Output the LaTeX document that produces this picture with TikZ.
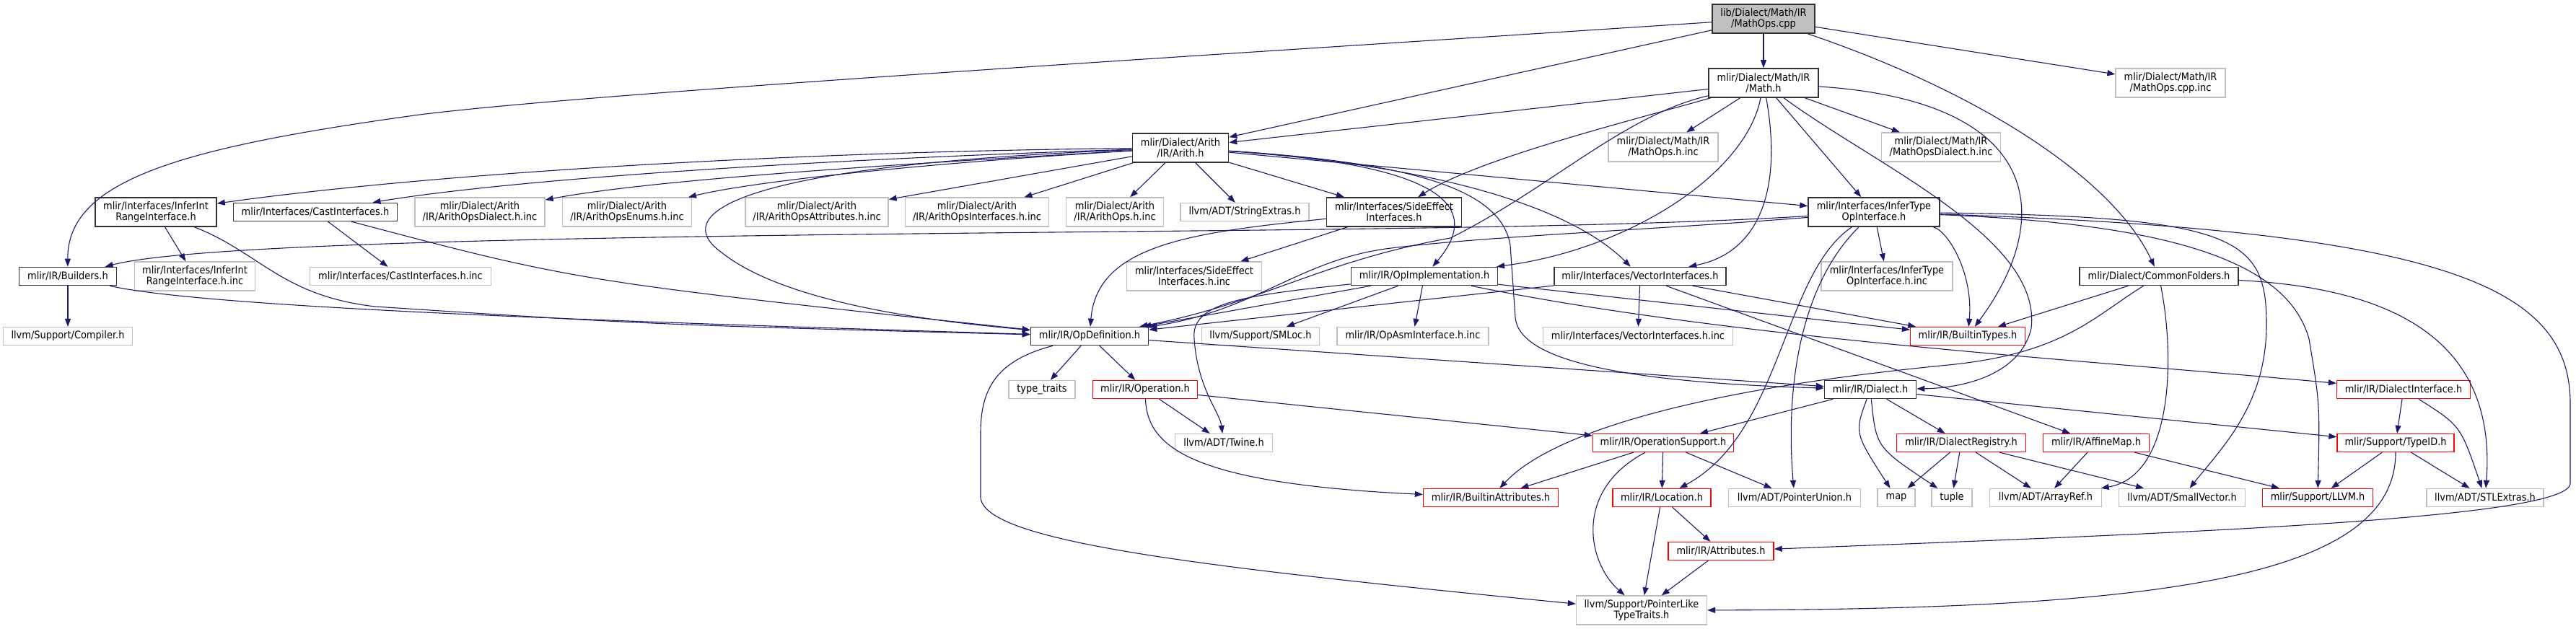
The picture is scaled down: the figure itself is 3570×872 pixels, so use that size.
\documentclass[tikz,border=0pt]{standalone}
\usepackage{fontspec}
\setmainfont{DejaVu Sans}[FakeStretch=0.9]
\usepackage{tikz}
\usetikzlibrary{arrows.meta}
\definecolor{edgeBlue}{RGB}{25,25,112}
\definecolor{boxDark}{RGB}{50,50,50}
\definecolor{boxGrey}{RGB}{191,191,191}
\definecolor{boxRed}{RGB}{255,0,0}

\begin{document}
\begin{tikzpicture}[x=1pt,y=-1pt,font=\fontsize{14.4}{15}\selectfont,
 file/.style={draw,inner xsep=2pt,inner ysep=1pt,minimum height=25pt,align=center},
 doc/.style={file,draw=boxDark,line width=1.6pt},
 ext/.style={file,draw=boxGrey,line width=1.3pt},
 trunc/.style={file,draw=boxRed,line width=1.3pt},
 root/.style={doc,fill=boxGrey},
 tall/.style={minimum height=40pt},
 inc/.style={draw=edgeBlue,line width=1.1pt,-{Triangle[length=11pt,width=8pt]}}]
 \useasboundingbox (0,0) rectangle (3570,872);
 \node[root,tall,minimum width=142pt] (mathops) at (2444,26) {lib/Dialect/Math/IR\\/MathOps.cpp};
 \node[doc,tall,minimum width=152pt] (math) at (2444,115) {mlir/Dialect/Math/IR\\/Math.h};
 \node[ext,tall,minimum width=152pt] (mathopscppinc) at (3008,115) {mlir/Dialect/Math/IR\\/MathOps.cpp.inc};
 \node[doc,tall,minimum width=133pt] (arith) at (1636,205) {mlir/Dialect/Arith\\/IR/Arith.h};
 \node[ext,tall,minimum width=152pt] (mathopsinc) at (2305,204) {mlir/Dialect/Math/IR\\/MathOps.h.inc};
 \node[ext,tall,minimum width=165pt] (mathdialectinc) at (2690,204) {mlir/Dialect/Math/IR\\/MathOpsDialect.h.inc};
 \node[doc,tall,minimum width=168pt] (inferint) at (216,294) {mlir/Interfaces/InferInt\\RangeInterface.h};
 \node[doc,minimum width=227pt] (castif) at (437,294) {mlir/Interfaces/CastInterfaces.h};
 \node[ext,tall,minimum width=180pt] (arithdialect) at (665,294) {mlir/Dialect/Arith\\/IR/ArithOpsDialect.h.inc};
 \node[ext,tall,minimum width=179pt] (arithenums) at (869,294) {mlir/Dialect/Arith\\/IR/ArithOpsEnums.h.inc};
 \node[ext,tall,minimum width=198pt] (arithattr) at (1132,294) {mlir/Dialect/Arith\\/IR/ArithOpsAttributes.h.inc};
 \node[ext,tall,minimum width=199pt] (arithif) at (1354,294) {mlir/Dialect/Arith\\/IR/ArithOpsInterfaces.h.inc};
 \node[ext,tall,minimum width=135pt] (arithops) at (1545,294) {mlir/Dialect/Arith\\/IR/ArithOps.h.inc};
 \node[ext,minimum width=178pt] (stringextras) at (1725,294) {llvm/ADT/StringExtras.h};
 \node[doc,tall,minimum width=187pt] (sideeffect) at (1932,294) {mlir/Interfaces/SideEffect\\Interfaces.h};
 \node[doc,tall,minimum width=182pt] (infertype) at (2597,294) {mlir/Interfaces/InferType\\OpInterface.h};
 \node[doc,minimum width=135pt] (builders) at (94,383) {mlir/IR/Builders.h};
 \node[ext,tall,minimum width=167pt] (inferintinc) at (270,383) {mlir/Interfaces/InferInt\\RangeInterface.h.inc};
 \node[ext,minimum width=251pt] (castinc) at (555,383) {mlir/Interfaces/CastInterfaces.h.inc};
 \node[ext,tall,minimum width=187pt] (sideeffectinc) at (1655,383) {mlir/Interfaces/SideEffect\\Interfaces.h.inc};
 \node[doc,minimum width=203pt] (opimpl) at (1974,383) {mlir/IR/OpImplementation.h};
 \node[doc,minimum width=238pt] (vectorif) at (2273,383) {mlir/Interfaces/VectorInterfaces.h};
 \node[ext,tall,minimum width=182pt] (infertypeinc) at (2615,383) {mlir/Interfaces/InferType\\OpInterface.h.inc};
 \node[doc,minimum width=220pt] (commonfolders) at (2992,383) {mlir/Dialect/CommonFolders.h};
 \node[ext,minimum width=179pt] (compiler) at (94,466) {llvm/Support/Compiler.h};
 \node[doc,minimum width=163pt] (opdef) at (1510,466) {mlir/IR/OpDefinition.h};
 \node[ext,minimum width=163pt] (smloc) at (1747,466) {llvm/Support/SMLoc.h};
 \node[ext,minimum width=210pt] (opasminc) at (1958,466) {mlir/IR/OpAsmInterface.h.inc};
 \node[ext,minimum width=263pt] (vectorinc) at (2270,466) {mlir/Interfaces/VectorInterfaces.h.inc};
 \node[trunc,minimum width=159pt] (builtintypes) at (2727,466) {mlir/IR/BuiltinTypes.h};
 \node[ext,minimum width=92pt] (typetraits) at (1444,540) {type\_traits};
 \node[trunc,minimum width=145pt] (operation) at (1587,540) {mlir/IR/Operation.h};
 \node[doc,minimum width=127pt] (dialect) at (2592,540) {mlir/IR/Dialect.h};
 \node[trunc,minimum width=185pt] (dialectif) at (3331,540) {mlir/IR/DialectInterface.h};
 \node[ext,minimum width=135pt] (twine) at (1696,614) {llvm/ADT/Twine.h};
 \node[trunc,minimum width=195pt] (opsupport) at (2305,614) {mlir/IR/OperationSupport.h};
 \node[trunc,minimum width=179pt] (dialectreg) at (2718,614) {mlir/IR/DialectRegistry.h};
 \node[trunc,minimum width=147pt] (affinemap) at (2905,614) {mlir/IR/AffineMap.h};
 \node[trunc,minimum width=162pt] (typeid) at (3320,614) {mlir/Support/TypeID.h};
 \node[trunc,minimum width=187pt] (builtinattrs) at (2066,690) {mlir/IR/BuiltinAttributes.h};
 \node[trunc,minimum width=136pt] (location) at (2303,690) {mlir/IR/Location.h};
 \node[ext,minimum width=183pt] (pointerunion) at (2487,690) {llvm/ADT/PointerUnion.h};
 \node[ext,minimum width=52pt] (map) at (2628,690) {map};
 \node[ext,minimum width=56pt] (tuple) at (2705,690) {tuple};
 \node[ext,minimum width=155pt] (arrayref) at (2835,690) {llvm/ADT/ArrayRef.h};
 \node[ext,minimum width=175pt] (smallvector) at (3024,690) {llvm/ADT/SmallVector.h};
 \node[trunc,minimum width=153pt] (llvmh) at (3212,690) {mlir/Support/LLVM.h};
 \node[ext,minimum width=162pt] (stlextras) at (3444,690) {llvm/ADT/STLExtras.h};
 \node[trunc,minimum width=146pt] (attributes) at (2385,764) {mlir/IR/Attributes.h};
 \node[ext,tall,minimum width=181pt] (pointerlike) at (2275,846) {llvm/Support/PointerLike\\TypeTraits.h};

 \draw[inc] (mathops) .. controls (1700,75) and (800,130) .. (574,160) .. controls (250,205) and (93,250) .. (builders);
 \draw[inc] (mathops) -- (arith);
 \draw[inc] (mathops) -- (math);
 \draw[inc] (mathops) -- (mathopscppinc);
 \draw[inc] (mathops) .. controls (2750,130) and (2930,250) .. (commonfolders);

 \draw[inc] (math) -- (arith);
 \draw[inc] (math) -- (mathopsinc);
 \draw[inc] (math) -- (mathdialectinc);
 \draw[inc] (math) .. controls (2250,170) and (2050,220) .. (sideeffect);
 \draw[inc] (math) .. controls (2250,160) and (2150,260) .. (2010,330) .. controls (1830,362) and (1750,420) .. (opdef);
 \draw[inc] (math) .. controls (2420,240) and (2260,345) .. (opimpl);
 \draw[inc] (math) .. controls (2470,260) and (2440,350) .. (vectorif);
 \draw[inc] (math) -- (infertype);
 \draw[inc] (math) .. controls (2600,230) and (2830,330) .. (2815,455) .. controls (2800,520) and (2720,538) .. (dialect);
 \draw[inc] (math) .. controls (2830,140) and (2850,300) .. (builtintypes);

 \draw[inc] (arith) .. controls (1100,210) and (600,240) .. (inferint);
 \draw[inc] (arith) .. controls (1100,222) and (700,250) .. (castif);
 \draw[inc] (arith) .. controls (1200,230) and (900,250) .. (arithdialect);
 \draw[inc] (arith) .. controls (1300,225) and (1050,250) .. (arithenums);
 \draw[inc] (arith) -- (arithattr);
 \draw[inc] (arith) -- (arithif);
 \draw[inc] (arith) -- (arithops);
 \draw[inc] (arith) -- (stringextras);
 \draw[inc] (arith) -- (sideeffect);
 \draw[inc] (arith) -- (infertype);
 \draw[inc] (arith) .. controls (1950,225) and (2070,270) .. (opimpl);
 \draw[inc] (arith) .. controls (2000,230) and (2180,290) .. (vectorif);
 \draw[inc] (arith) .. controls (1950,225) and (2080,260) .. (2093,340) -- (2100,440) .. controls (2105,500) and (2250,530) .. (dialect);
 \draw[inc] (arith) .. controls (1000,230) and (930,300) .. (1000,350) .. controls (1100,430) and (1350,450) .. (opdef);

 \draw[inc] (builders) -- (compiler);
 \draw[inc] (builders) .. controls (300,430) and (1000,450) .. (opdef);
 \draw[inc] (inferint) -- (inferintinc);
 \draw[inc] (inferint) .. controls (360,350) and (390,410) .. (520,425) .. controls (900,450) .. (opdef);
 \draw[inc] (castif) -- (castinc);
 \draw[inc] (castif) .. controls (800,390) .. (opdef);
 \draw[inc] (sideeffect) -- (sideeffectinc);
 \draw[inc] (sideeffect) .. controls (1650,322) and (1520,340) .. (opdef);

 \draw[inc] (infertype) .. controls (2300,312) and (2000,316) .. (1750,319) .. controls (1100,326) and (300,330) .. (builders);
 \draw[inc] (infertype) .. controls (2300,318) and (2050,328) .. (1920,345) .. controls (1800,362) and (1740,430) .. (opdef);
 \draw[inc] (infertype) -- (infertypeinc);
 \draw[inc] (infertype) .. controls (2700,320) and (2735,380) .. (builtintypes);
 \draw[inc] (infertype) .. controls (2470,380) and (2470,600) .. (location);
 \draw[inc] (infertype) .. controls (2490,400) and (2475,550) .. (pointerunion);
 \draw[inc] (infertype) .. controls (3000,310) and (3170,360) .. (3200,470) .. controls (3215,560) .. (llvmh);
 \draw[inc] (infertype) .. controls (3100,300) and (3141,330) .. (3141,450) .. controls (3141,560) and (3080,620) .. (smallvector);
 \draw[inc] (infertype) .. controls (3400,320) and (3562,400) .. (3562,560) -- (3562,670) .. controls (3562,720) and (3000,740) .. (attributes);

 \draw[inc] (opimpl) -- (opdef);
 \draw[inc] (opimpl) -- (smloc);
 \draw[inc] (opimpl) -- (opasminc);
 \draw[inc] (opimpl) .. controls (1720,410) and (1650,420) .. (1655,470) .. controls (1660,540) and (1690,570) .. (twine);
 \draw[inc] (opimpl) -- (builtintypes);
 \draw[inc] (opimpl) .. controls (2400,470) and (2900,500) .. (dialectif);
 \draw[inc] (vectorif) -- (opdef);
 \draw[inc] (vectorif) -- (vectorinc);
 \draw[inc] (vectorif) -- (builtintypes);
 \draw[inc] (vectorif) -- (affinemap);

 \draw[inc] (commonfolders) -- (builtintypes);
 \draw[inc] (commonfolders) .. controls (2900,440) and (2860,490) .. (2700,506) .. controls (2350,540) and (2150,600) .. (builtinattrs);
 \draw[inc] (commonfolders) .. controls (3015,500) and (3010,660) .. (arrayref);
 \draw[inc] (commonfolders) .. controls (3330,400) and (3460,480) .. (stlextras);

 \draw[inc] (opdef) -- (typetraits);
 \draw[inc] (opdef) -- (operation);
 \draw[inc] (opdef) -- (dialect);
 \draw[inc] (opdef) .. controls (1380,500) and (1359,540) .. (1359,600) -- (1359,690) .. controls (1365,750) and (1650,785) .. (pointerlike);
 \draw[inc] (operation) -- (twine);
 \draw[inc] (operation) -- (opsupport);
 \draw[inc] (operation) .. controls (1590,620) and (1650,670) .. (builtinattrs);

 \draw[inc] (dialect) -- (opsupport);
 \draw[inc] (dialect) .. controls (2570,600) .. (map);
 \draw[inc] (dialect) .. controls (2600,620) .. (tuple);
 \draw[inc] (dialect) -- (dialectreg);
 \draw[inc] (dialect) -- (typeid);
 \draw[inc] (dialectif) -- (typeid);
 \draw[inc] (dialectif) .. controls (3410,590) .. (stlextras);
 \draw[inc] (dialectreg) -- (map);
 \draw[inc] (dialectreg) -- (tuple);
 \draw[inc] (dialectreg) -- (arrayref);
 \draw[inc] (dialectreg) -- (smallvector);
 \draw[inc] (affinemap) -- (arrayref);
 \draw[inc] (affinemap) -- (llvmh);
 \draw[inc] (typeid) -- (llvmh);
 \draw[inc] (typeid) -- (stlextras);
 \draw[inc] (typeid) .. controls (3320,800) and (3000,845) .. (pointerlike);

 \draw[inc] (opsupport) -- (builtinattrs);
 \draw[inc] (opsupport) .. controls (2180,680) and (2200,780) .. (pointerlike);
 \draw[inc] (opsupport) -- (location);
 \draw[inc] (opsupport) -- (pointerunion);
 \draw[inc] (location) -- (attributes);
 \draw[inc] (location) -- (pointerlike);
 \draw[inc] (attributes) -- (pointerlike);
\end{tikzpicture}
\end{document}
